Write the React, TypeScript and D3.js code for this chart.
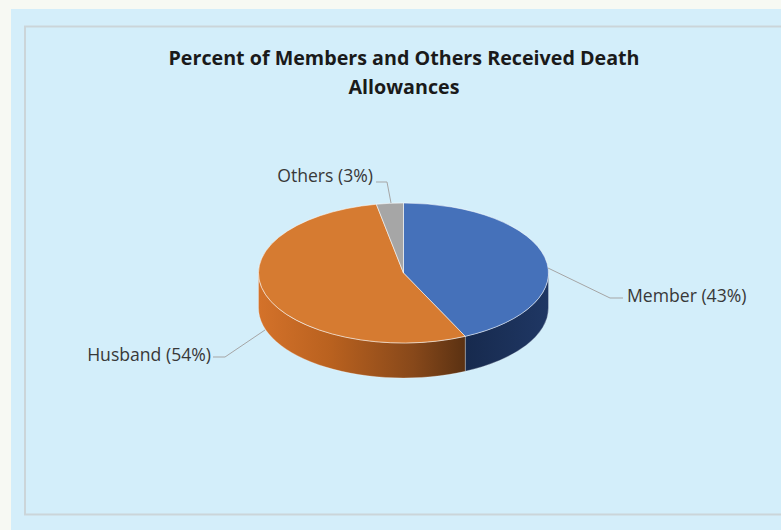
import React from "react";
import * as d3 from "d3";

const categories = ["Member", "Husband", "Others"];
const values = [43, 54, 3];
const labels = ["Member (43%)", "Husband (54%)", "Others (3%)"];
const titleLines = ["Percent of Members and Others Received Death", "Allowances"];

const W = 781;
const H = 530;
const cx = 403.5;
const cy = 273;
const rx = 145;
const ry = 70;
const depth = 35;

const topColors = ["#4571BA", "#D67B31", "#A6A6A6"];

function pt(a: number, dy = 0): [number, number] {
  return [cx + rx * Math.sin(a), cy - ry * Math.cos(a) + dy];
}

export default function App() {
  const pie = d3.pie<number>().sort(null).startAngle(0).endAngle(2 * Math.PI);
  const arcs = pie(values);

  const topPath = (a0: number, a1: number) => {
    const p0 = pt(a0);
    const p1 = pt(a1);
    const large = a1 - a0 > Math.PI ? 1 : 0;
    return `M${cx},${cy}L${p0[0]},${p0[1]}A${rx},${ry} 0 ${large} 1 ${p1[0]},${p1[1]}Z`;
  };
  const wallPath = (a0: number, a1: number) => {
    const s = Math.max(a0, Math.PI / 2);
    const e = Math.min(a1, (3 * Math.PI) / 2);
    if (e <= s) return null;
    const p0 = pt(s);
    const p1 = pt(e);
    const q1 = pt(e, depth);
    const q0 = pt(s, depth);
    return `M${p0[0]},${p0[1]}A${rx},${ry} 0 0 1 ${p1[0]},${p1[1]}L${q1[0]},${q1[1]}A${rx},${ry} 0 0 0 ${q0[0]},${q0[1]}Z`;
  };

  const font = "'Open Sans', 'Liberation Sans', sans-serif";

  return (
    <svg width={W} height={H} style={{ position: "absolute", left: 0, top: 0, display: "block" }}>
      <defs>
        <linearGradient id="gOrange" gradientUnits="userSpaceOnUse" x1={258} y1={0} x2={466} y2={0}>
          <stop offset="0" stopColor="#D4722A" />
          <stop offset="0.35" stopColor="#B9611F" />
          <stop offset="0.75" stopColor="#87481A" />
          <stop offset="1" stopColor="#5A3112" />
        </linearGradient>
        <linearGradient id="gBlue" gradientUnits="userSpaceOnUse" x1={466} y1={0} x2={549} y2={0}>
          <stop offset="0" stopColor="#172A4E" />
          <stop offset="1" stopColor="#1F3764" />
        </linearGradient>
      </defs>
      <rect x={0} y={0} width={W} height={H} fill="#F7F9F3" />
      <rect x={11} y={9} width={W - 11} height={H - 9} fill="#D4EEFA" />
      <rect x={25} y={26.5} width={W} height={488} fill="#D3EEFA" stroke="#CBD5D9" strokeWidth={2} />

      {titleLines.map((t, i) => (
        <text key={i} x={404} y={65 + i * 29} textAnchor="middle" fontFamily={font} fontWeight="bold" fontSize={19.7} fill="#1A1A1A">
          {t}
        </text>
      ))}

      {arcs.map((a, i) => {
        const d = wallPath(a.startAngle, a.endAngle);
        if (!d) return null;
        const fill = i === 0 ? "url(#gBlue)" : i === 1 ? "url(#gOrange)" : "#7F7F7F";
        return <path key={"w" + i} d={d} fill={fill} stroke="rgba(255,255,255,0.35)" strokeWidth={0.8} />;
      })}
      {arcs.map((a, i) => (
        <path key={"t" + i} d={topPath(a.startAngle, a.endAngle)} fill={topColors[i]} stroke="rgba(255,255,255,0.55)" strokeWidth={1} />
      ))}

      {/* leader lines */}
      <polyline points="548,268 610,298 623,298" fill="none" stroke="#A5A5A5" strokeWidth={1} />
      <polyline points="213,357 225,357 265,330" fill="none" stroke="#A5A5A5" strokeWidth={1} />
      <polyline points="376,182 387,182 391,203" fill="none" stroke="#A5A5A5" strokeWidth={1} />

      <text x={627} y={302} fontFamily={font} fontSize={17.6} fill="#383838">{labels[0]}</text>
      <text x={211} y={361} textAnchor="end" fontFamily={font} fontSize={17.6} fill="#383838">{labels[1]}</text>
      <text x={373} y={182} textAnchor="end" fontFamily={font} fontSize={17.6} fill="#383838">{labels[2]}</text>
    </svg>
  );
}
